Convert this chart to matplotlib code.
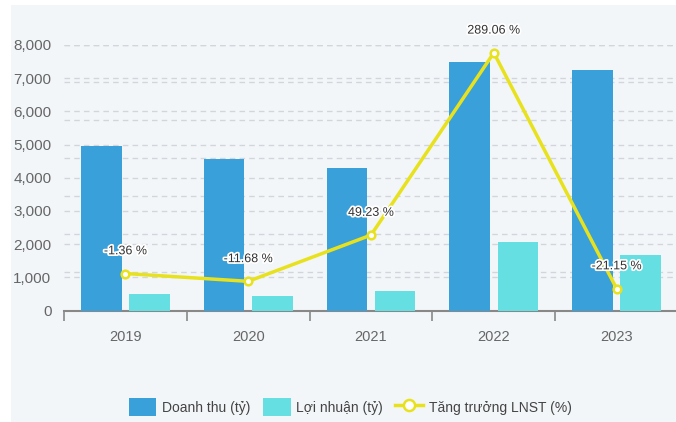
import matplotlib.pyplot as plt
import matplotlib.patheffects as pe
import matplotlib.transforms as mtrans
from matplotlib.patches import Patch, Rectangle
from matplotlib.lines import Line2D
import numpy as np

plt.rcParams['font.family'] = ['Liberation Sans', 'DejaVu Sans']

years = ['2019', '2020', '2021', '2022', '2023']
doanh_thu = [4950, 4560, 4290, 7490, 7250]
loi_nhuan = [496, 444, 604, 2054, 1674]
tang_truong = [-1.36, -11.68, 49.23, 289.06, -21.15]

W, H = 676, 422
fig = plt.figure(figsize=(W / 100, H / 100), dpi=100)
fig.patch.set_facecolor('white')
bg = '#f3f6f9'
fig.add_artist(Rectangle((11 / W, 0), 1, 1 - 5 / H, transform=fig.transFigure,
                         facecolor=bg, edgecolor='none', zorder=-10))

left, right, bottom, top = 64, 678, 310.7, 44.5
ax = fig.add_axes([left / W, 1 - bottom / H, (right - left) / W, (bottom - top) / H])
ax.set_facecolor('none')
ax2 = ax.twinx()

x = np.arange(len(years))
w = 0.33
ax.bar(x - 0.196, doanh_thu, w, color='#3aa0d9', zorder=3)
ax.bar(x + 0.196, loi_nhuan, w, color='#66dfe3', zorder=3)

ax.set_xlim(-0.5, 4.5)
ax.set_ylim(0, 8010)
ax.set_yticks(range(0, 8001, 1000))
ax.set_yticklabels([f'{v:,}' for v in range(0, 8001, 1000)])
grid_kw = dict(color='#d2d6db', linestyle=(0, (4, 3)), linewidth=1)
ax.grid(axis='y', zorder=1, **grid_kw)
ax.set_axisbelow(True)

ax.set_xticks(x)
ax.set_xticklabels(years)
ax.set_xticks(np.arange(-0.5, 5, 1), minor=True)
ax.tick_params(axis='x', which='major', length=0, pad=14, labelsize=10.5, labelcolor='#666666')
ax.tick_params(axis='x', which='minor', length=7, width=1.2, color='#888888', direction='out')
ax.tick_params(axis='y', length=0, pad=9, labelsize=11, labelcolor='#666666')

for s in ['top', 'right', 'left']:
    ax.spines[s].set_visible(False)
    ax2.spines[s].set_visible(False)
ax.spines['bottom'].set_color('#888888')
ax.spines['bottom'].set_linewidth(1.5)
ax2.spines['bottom'].set_visible(False)

ax2.set_ylim(-50.3, 300)
ax2.set_yticks([])
# secondary-axis grid, drawn on the primary axes so it stays behind the bars
sec_tr = mtrans.blended_transform_factory(ax.transAxes, ax2.transData)
for g in range(0, 301, 50):
    ax.plot([0, 1], [g, g], transform=sec_tr, zorder=1, **grid_kw)

ax2.plot(x, tang_truong, color='#e8e21e', linewidth=2.5, marker='o', markersize=5.5,
         markerfacecolor='white', markeredgecolor='#e8e21e', markeredgewidth=1.8, zorder=5)

for xi, v in zip(x, tang_truong):
    ax2.annotate(f'{v:.2f} %', (xi, v), xytext=(0, 16), textcoords='offset points',
                 ha='center', va='center', fontsize=9, color='#333333', annotation_clip=False,
                 path_effects=[pe.withStroke(linewidth=2.5, foreground='white')], zorder=6)

handles = [
    Patch(facecolor='#3aa0d9', edgecolor='none', label='Doanh thu (tỷ)'),
    Patch(facecolor='#66dfe3', edgecolor='none', label='Lợi nhuận (tỷ)'),
    Line2D([], [], color='#e8e21e', linewidth=2.5, marker='o', markersize=8,
           markerfacecolor='white', markeredgecolor='#e8e21e', markeredgewidth=1.8,
           label='Tăng trưởng LNST (%)'),
]
fig.legend(handles=handles, loc='center', bbox_to_anchor=(0.518, 1 - 407 / H), ncol=3,
           frameon=False, fontsize=10, labelcolor='#444444', handlelength=2.0,
           handleheight=1.6, handletextpad=0.4, columnspacing=0.9)

plt.savefig('out.png', dpi=100, facecolor=fig.get_facecolor())
